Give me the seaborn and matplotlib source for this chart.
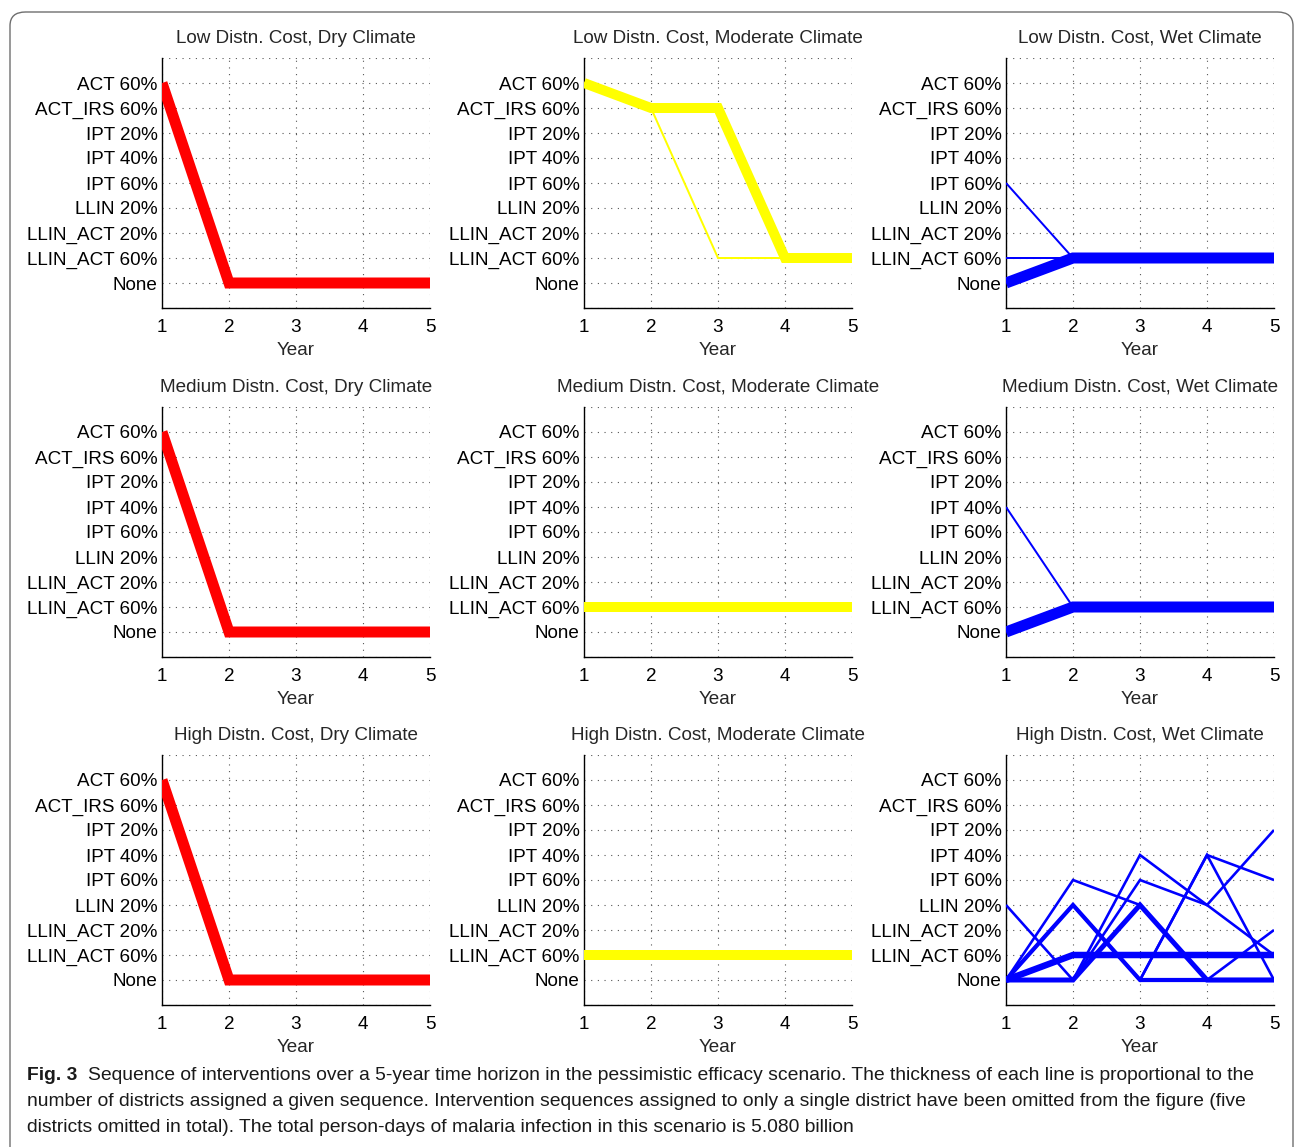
import matplotlib
matplotlib.use("Agg")
import matplotlib.pyplot as plt
import seaborn as sns
from matplotlib.patches import FancyBboxPatch

# --- Data ---
years = [1, 2, 3, 4, 5]
interventions = ['None', 'LLIN_ACT 60%', 'LLIN_ACT 20%', 'LLIN 20%', 'IPT 60%',
                 'IPT 40%', 'IPT 20%', 'ACT_IRS 60%', 'ACT 60%']
costs = ['Low', 'Medium', 'High']
climates = ['Dry', 'Moderate', 'Wet']

# sequences per panel (intervention per year) and number of districts for each
low_dry = [['ACT 60%', 'None', 'None', 'None', 'None']]
low_dry_n = [11]
low_mod = [['ACT 60%', 'ACT_IRS 60%', 'ACT_IRS 60%', 'LLIN_ACT 60%', 'LLIN_ACT 60%'],
           ['ACT 60%', 'ACT_IRS 60%', 'LLIN_ACT 60%', 'LLIN_ACT 60%', 'LLIN_ACT 60%']]
low_mod_n = [10, 2]
low_wet = [['None', 'LLIN_ACT 60%', 'LLIN_ACT 60%', 'LLIN_ACT 60%', 'LLIN_ACT 60%'],
           ['IPT 60%', 'LLIN_ACT 60%', 'LLIN_ACT 60%', 'LLIN_ACT 60%', 'LLIN_ACT 60%'],
           ['LLIN_ACT 60%', 'LLIN_ACT 60%', 'LLIN_ACT 60%', 'LLIN_ACT 60%', 'LLIN_ACT 60%']]
low_wet_n = [11, 2, 2]

med_dry = [['ACT 60%', 'None', 'None', 'None', 'None']]
med_dry_n = [11]
med_mod = [['LLIN_ACT 60%'] * 5]
med_mod_n = [10]
med_wet = [['None', 'LLIN_ACT 60%', 'LLIN_ACT 60%', 'LLIN_ACT 60%', 'LLIN_ACT 60%'],
           ['IPT 40%', 'LLIN_ACT 60%', 'LLIN_ACT 60%', 'LLIN_ACT 60%', 'LLIN_ACT 60%']]
med_wet_n = [11, 2]

high_dry = [['ACT 60%', 'None', 'None', 'None', 'None']]
high_dry_n = [11]
high_mod = [['LLIN_ACT 60%'] * 5]
high_mod_n = [10]
high_wet = [['None', 'LLIN_ACT 60%', 'LLIN_ACT 60%', 'LLIN_ACT 60%', 'LLIN_ACT 60%'],
            ['None', 'None', 'LLIN 20%', 'None', 'None'],
            ['None', 'LLIN 20%', 'None', 'None', 'None'],
            ['LLIN 20%', 'None', 'IPT 40%', 'LLIN 20%', 'IPT 20%'],
            ['None', 'None', 'IPT 60%', 'LLIN 20%', 'LLIN_ACT 60%'],
            ['None', 'IPT 60%', 'LLIN 20%', 'None', 'LLIN_ACT 20%'],
            ['None', 'LLIN 20%', 'None', 'IPT 40%', 'IPT 60%'],
            ['None', 'LLIN 20%', 'None', 'IPT 40%', 'None']]
high_wet_n = [6.5, 5, 4.2, 2.6, 2.6, 2.6, 2.6, 2.6]

panels = {
    ('Low', 'Dry'): (low_dry, low_dry_n),
    ('Low', 'Moderate'): (low_mod, low_mod_n),
    ('Low', 'Wet'): (low_wet, low_wet_n),
    ('Medium', 'Dry'): (med_dry, med_dry_n),
    ('Medium', 'Moderate'): (med_mod, med_mod_n),
    ('Medium', 'Wet'): (med_wet, med_wet_n),
    ('High', 'Dry'): (high_dry, high_dry_n),
    ('High', 'Moderate'): (high_mod, high_mod_n),
    ('High', 'Wet'): (high_wet, high_wet_n),
}

caption_lines = [
    "Sequence of interventions over a 5-year time horizon in the pessimistic efficacy scenario. The thickness of each line is proportional to the",
    "number of districts assigned a given sequence. Intervention sequences assigned to only a single district have been omitted from the figure (five",
    "districts omitted in total). The total person-days of malaria infection in this scenario is 5.080 billion",
]

# --- Style ---
sns.set_style('white')
plt.rcParams['font.family'] = ['Liberation Sans', 'DejaVu Sans']
plt.rcParams['axes.unicode_minus'] = False

colors = {'Dry': '#FF0000', 'Moderate': '#FFFF00', 'Wet': '#0000FF'}
W, H = 1295, 1147
fig = plt.figure(figsize=(W / 100, H / 100), dpi=100)
fig.patch.set_facecolor('white')

# rounded frame around the whole figure
frame = FancyBboxPatch((10 / W, -0.05), (1293 - 10) / W, 1 - 12 / H + 0.05,
                       boxstyle='round,pad=0,rounding_size=0.012',
                       transform=fig.transFigure, fill=False,
                       edgecolor='#6e6e6e', linewidth=1.0)
fig.patches.append(frame)

lefts = [162, 584, 1006]
bottoms = [308, 657, 1005]
aw, ah = 268, 250
fs = 13.6

for r, cost in enumerate(costs):
    for c, climate in enumerate(climates):
        ax = fig.add_axes([lefts[c] / W, 1 - bottoms[r] / H, aw / W, ah / H])
        seqs, counts = panels[(cost, climate)]
        order = sorted(range(len(seqs)), key=lambda i: -counts[i])
        for i in order:
            codes = [interventions.index(s) for s in seqs[i]]
            sns.lineplot(x=years, y=codes, ax=ax, color=colors[climate],
                         linewidth=counts[i] * 0.72, sort=False, estimator=None,
                         solid_capstyle='butt', solid_joinstyle='miter', zorder=3)

        ax.set_xlim(1, 5)
        ax.set_ylim(-1, 9)
        ax.set_xticks(years)
        ax.set_xticklabels([str(y) for y in years], fontsize=fs)
        ax.set_yticks(range(-1, 10))
        ax.set_yticklabels([''] + interventions + [''], fontsize=fs)
        ax.set_xlabel('Year', fontsize=fs, labelpad=4)
        ax.set_ylabel('')
        ax.set_title(f'{cost} Distn. Cost, {climate} Climate', fontsize=fs, pad=11)

        ax.grid(True, linestyle=(0, (1, 5)), color='#555555', linewidth=0.8, zorder=0)
        ax.set_axisbelow(True)
        for side in ['top', 'right']:
            ax.spines[side].set_visible(False)
        for side in ['left', 'bottom']:
            ax.spines[side].set_color('black')
            ax.spines[side].set_linewidth(1.0)
        ax.tick_params(direction='in', length=3, width=0.6, colors='black',
                       pad=3, labelcolor='black')
        ax.tick_params(axis='x', pad=8)

# --- Caption ---
cap_font = ['Liberation Sans', 'DejaVu Sans']
cap_fs = 13.85
cap_y = [1075, 1101, 1127]
fig.text(27 / W, 1 - cap_y[0] / H, 'Fig. 3', fontsize=cap_fs, weight='bold',
         va='center', ha='left', family=cap_font, color='#1a1a1a')
fig.text(88 / W, 1 - cap_y[0] / H, caption_lines[0], fontsize=cap_fs,
         va='center', ha='left', family=cap_font, color='#1a1a1a')
for line, y in zip(caption_lines[1:], cap_y[1:]):
    fig.text(27 / W, 1 - y / H, line, fontsize=cap_fs, va='center', ha='left',
             family=cap_font, color='#1a1a1a')

fig.savefig('out.png', dpi=100, facecolor='white')
plt.close(fig)
